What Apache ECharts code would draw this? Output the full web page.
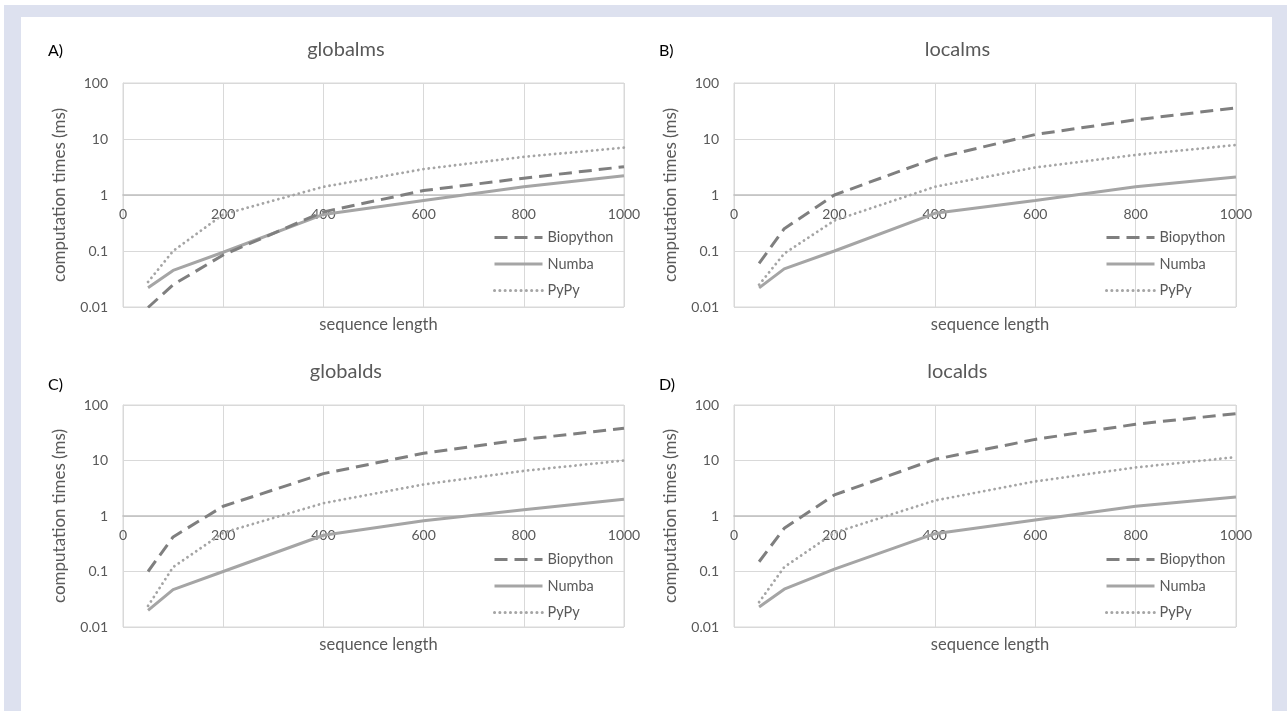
<!DOCTYPE html>
<html>
<head>
<meta charset="utf-8">
<script src="https://cdn.jsdelivr.net/npm/echarts@6/dist/echarts.min.js"></script>
<style>
html,body{margin:0;padding:0;background:#fff;}
#c{width:1287px;height:711px;}
</style>
</head>
<body>
<div id="c"></div>
<script>
// ---- data ----
const seqLengths = [50, 100, 200, 400, 600, 800, 1000];
const seriesNames = ['Biopython', 'Numba', 'PyPy'];
const panelTitles = ['globalms', 'localms', 'globalds', 'localds'];
const panelLetters = ['A)', 'B)', 'C)', 'D)'];
const xTickLabels = ['0', '200', '400', '600', '800', '1000'];
const yTickLabels = ['0.01', '0.1', '1', '10', '100'];

const globalmsBiopython = [0.0098, 0.025, 0.085, 0.5, 1.2, 2.0, 3.2];
const globalmsNumba     = [0.022, 0.045, 0.095, 0.45, 0.8, 1.4, 2.2];
const globalmsPyPy      = [0.028, 0.1, 0.45, 1.4, 2.9, 4.8, 7.0];

const localmsBiopython = [0.06, 0.25, 1.0, 4.5, 12, 22, 36];
const localmsNumba     = [0.022, 0.048, 0.1, 0.47, 0.8, 1.4, 2.1];
const localmsPyPy      = [0.025, 0.09, 0.35, 1.4, 3.1, 5.2, 7.8];

const globaldsBiopython = [0.1, 0.42, 1.5, 5.8, 13.5, 24, 38];
const globaldsNumba     = [0.02, 0.047, 0.1, 0.45, 0.82, 1.3, 2.0];
const globaldsPyPy      = [0.024, 0.12, 0.5, 1.7, 3.7, 6.5, 10];

const localdsBiopython = [0.15, 0.6, 2.4, 10.5, 24, 45, 70];
const localdsNumba     = [0.023, 0.048, 0.11, 0.48, 0.85, 1.5, 2.2];
const localdsPyPy      = [0.028, 0.12, 0.5, 1.9, 4.2, 7.5, 11.5];

const panelData = [
  [globalmsBiopython, globalmsNumba, globalmsPyPy],
  [localmsBiopython, localmsNumba, localmsPyPy],
  [globaldsBiopython, globaldsNumba, globaldsPyPy],
  [localdsBiopython, localdsNumba, localdsPyPy]
];

// ---- layout ----
const FONT = 'Lato, "Open Sans", sans-serif';
const grids = [
  {left: 123, top: 83, width: 501, height: 224},
  {left: 734, top: 83, width: 502, height: 224},
  {left: 123, top: 405, width: 501, height: 222},
  {left: 734, top: 405, width: 502, height: 222}
];
const seriesStyles = [
  {color: '#7f7f7f', width: 3, type: [13, 7], cap: 'butt'},
  {color: '#a5a5a5', width: 3, type: 'solid', cap: 'butt'},
  {color: '#a5a5a5', width: 2.8, type: [0.1, 5.2], cap: 'round'}
];

const option = {
  animation: false,
  backgroundColor: '#ffffff',
  graphic: [
    {type: 'rect', shape: {x: 4, y: 5, width: 1283, height: 706}, style: {fill: '#dde1ef'}, silent: true, z: -10},
    {type: 'rect', shape: {x: 21, y: 17, width: 1251, height: 694}, style: {fill: '#ffffff'}, silent: true, z: -9}
  ],
  title: [],
  grid: [],
  xAxis: [],
  yAxis: [],
  legend: [],
  series: []
};

grids.forEach((g, i) => {
  option.grid.push(Object.assign({show: true, borderColor: '#d9d9d9', borderWidth: 1, backgroundColor: 'transparent'}, g));
  const titleX = g.left + g.width * 0.435;
  option.title.push({
    text: panelTitles[i], left: titleX, top: g.top - 48, textAlign: 'center',
    textStyle: {fontFamily: FONT, fontSize: 20, fontWeight: 'normal', color: '#595959'}
  });
  option.title.push({
    text: panelLetters[i], left: g.left - 80, top: g.top - (i < 2 ? 45 : 33),
    textStyle: {fontFamily: FONT, fontSize: 16, fontWeight: 'normal', color: '#000000'}
  });
  option.title.push({
    text: 'sequence length', left: g.left + g.width * 0.5, top: g.top + g.height + 4, textAlign: 'center',
    textStyle: {fontFamily: FONT, fontSize: 16.5, fontWeight: 'normal', color: '#595959'}
  });
  option.xAxis.push({
    type: 'value', gridIndex: i, min: 0, max: 1000, interval: 200,
    position: 'bottom', offset: -g.height / 2,
    axisLine: {show: true, onZero: false, lineStyle: {color: '#bfbfbf', width: 1.5}},
    axisTick: {show: false},
    axisLabel: {
      margin: 12, fontFamily: FONT, fontSize: 14, color: '#595959',
      formatter: v => xTickLabels[Math.round(v / 200)]
    },
    splitLine: {show: true, lineStyle: {color: '#d9d9d9', width: 1}}
  });
  option.yAxis.push({
    type: 'log', logBase: 10, gridIndex: i, min: 0.01, max: 100,
    name: 'computation times (ms)', nameLocation: 'middle', nameGap: 55, nameRotate: 90,
    nameTextStyle: {fontFamily: FONT, fontSize: 17, color: '#595959'},
    axisLine: {show: true, lineStyle: {color: '#d9d9d9'}},
    axisTick: {show: false},
    axisLabel: {
      margin: 15, fontFamily: FONT, fontSize: 14, color: '#595959',
      formatter: v => yTickLabels[Math.round(Math.log10(v)) + 2]
    },
    splitLine: {show: true, lineStyle: {color: '#d9d9d9', width: 1}}
  });
  option.legend.push({
    data: seriesNames, orient: 'vertical',
    left: g.left + g.width - 131, top: g.top + 147,
    itemWidth: 48, itemHeight: 14, itemGap: 11.5, padding: 0,
    selectedMode: false,
    itemStyle: {opacity: 0},
    lineStyle: {width: 3},
    textStyle: {fontFamily: FONT, fontSize: 14.5, color: '#595959', lineHeight: 14}
  });
  seriesNames.forEach((name, k) => {
    const st = seriesStyles[k];
    option.series.push({
      name: name, type: 'line', xAxisIndex: i, yAxisIndex: i,
      symbol: 'none', smooth: false, clip: true,
      data: seqLengths.map((x, j) => [x, panelData[i][k][j]]),
      color: st.color,
      lineStyle: {color: st.color, width: st.width, type: st.type, cap: st.cap},
      z: 5 - k
    });
  });
});

const chart = echarts.init(document.getElementById('c'), null, {renderer: 'canvas'});
chart.setOption(option);
</script>
</body>
</html>
